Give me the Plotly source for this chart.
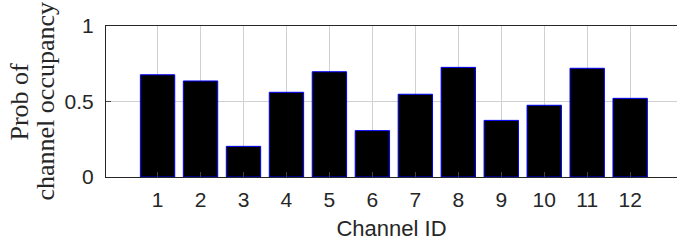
import plotly.graph_objects as go

channels = list(range(1, 13))
occupancy = [0.677, 0.636, 0.203, 0.561, 0.697, 0.307, 0.548, 0.726, 0.375, 0.475, 0.720, 0.521]
x_title = "Channel ID"
y_title_lines = ["Prob of", "channel occupancy"]

W, H = 677, 246
L, R, T, B = 106, 0, 26, 69

fig = go.Figure()
fig.add_trace(go.Bar(
    x=channels, y=occupancy, width=0.8,
    marker=dict(color="black", line=dict(color="#0000ff", width=1)),
))

axis_font = dict(family="Liberation Sans, Arial, sans-serif", size=21, color="#262626")
fig.update_layout(
    width=W, height=H,
    margin=dict(l=L, r=R, t=T, b=B, pad=0),
    plot_bgcolor="white", paper_bgcolor="white",
    showlegend=False,
    xaxis=dict(
        range=[-0.2, 13.09], tickmode="array", tickvals=channels,
        ticktext=[str(c) for c in channels], automargin=False,
        showgrid=True, gridcolor="#d0d0d0", gridwidth=1,
        showline=True, linecolor="#262626", linewidth=1, mirror=True,
        ticks="inside", ticklen=5, tickcolor="#444444",
        tickfont=axis_font, zeroline=False, ticklabelstandoff=4,
        title=dict(text=x_title, font=dict(family="Liberation Sans, Arial, sans-serif", size=22, color="#262626"), standoff=10),
    ),
    yaxis=dict(
        range=[0, 1], tickmode="array", tickvals=[0, 0.5, 1], ticktext=["0", "0.5", "1"],
        showgrid=True, gridcolor="#d0d0d0", gridwidth=1, automargin=False,
        showline=True, linecolor="#262626", linewidth=1, mirror=False,
        ticks="inside", ticklen=5, tickcolor="#444444",
        tickfont=axis_font, zeroline=False, ticklabelstandoff=7,
    ),
)

serif = dict(family="Liberation Serif, Times New Roman, serif", size=26, color="#262626")
fig.add_annotation(text=y_title_lines[0], textangle=-90, xref="paper", yref="paper",
                   x=-(L - 19) / (W - L - R), y=0.5, xanchor="center", yanchor="middle",
                   showarrow=False, font=serif)
fig.add_annotation(text=y_title_lines[1], textangle=-90, xref="paper", yref="paper",
                   x=-(L - 45) / (W - L - R), y=0.5, xanchor="center", yanchor="middle",
                   showarrow=False, font=serif)

fig.write_html("out.html", config={"displayModeBar": False},
               post_script="document.body.style.margin='0';document.body.style.overflow='hidden';")
